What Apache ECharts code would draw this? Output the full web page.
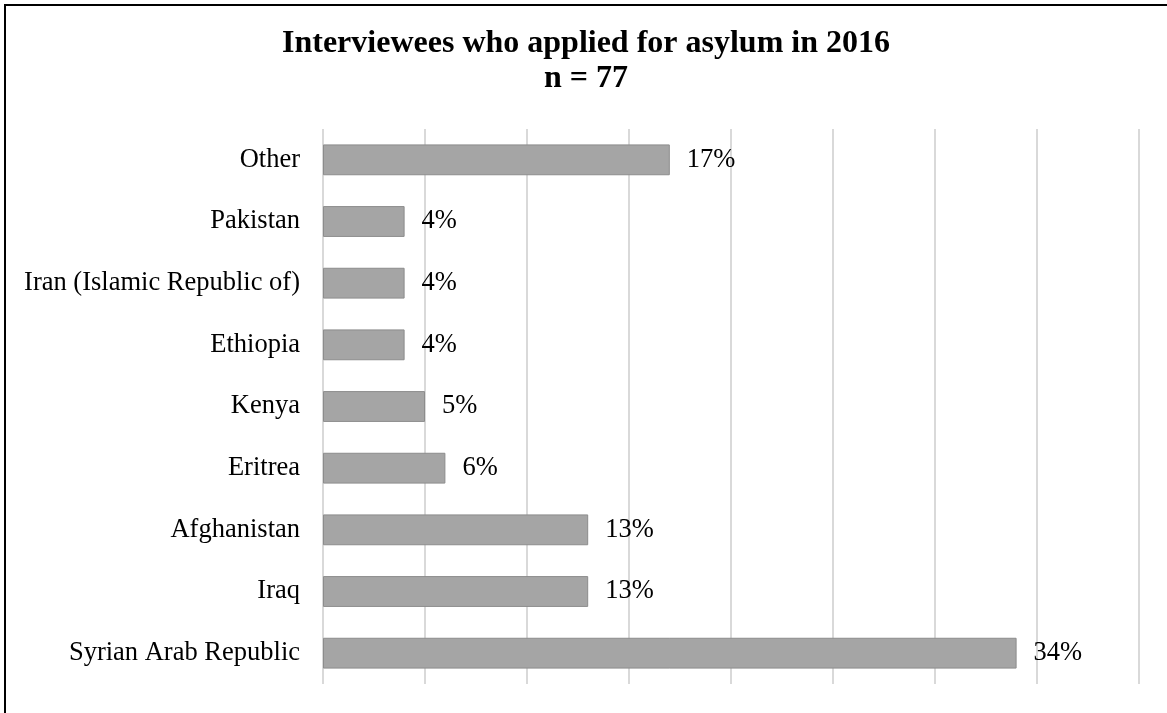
<!DOCTYPE html>
<html>
<head>
<meta charset="utf-8">
<script src="https://cdn.jsdelivr.net/npm/echarts@6/dist/echarts.min.js"></script>
<style>
  html, body { margin: 0; padding: 0; background: #fff; }
  #chart { width: 1167px; height: 713px; }
</style>
</head>
<body>
<div id="chart"></div>
<script>
// Countries of origin, listed bottom to top as drawn on the category axis
const countries = [
  'Syrian Arab Republic',
  'Iraq',
  'Afghanistan',
  'Eritrea',
  'Kenya',
  'Ethiopia',
  'Iran (Islamic Republic of)',
  'Pakistan',
  'Other'
];

// Share of interviewees (percent)
const shares = [34, 13, 13, 6, 5, 4, 4, 4, 17];

const titleLines = ['Interviewees who applied for asylum in 2016', 'n = 77'];

const serif = '"Liberation Serif", "DejaVu Serif", serif';

const chart = echarts.init(document.getElementById('chart'), null, { renderer: 'canvas' });

chart.setOption({
  backgroundColor: '#ffffff',
  animation: false,
  graphic: [
    {
      // frame around the chart area (left and top edges visible)
      type: 'rect',
      shape: { x: 5, y: 5, width: 2000, height: 2000 },
      style: { fill: 'none', stroke: '#000000', lineWidth: 2 },
      silent: true
    },
    {
      // two-line centred heading
      type: 'text',
      x: 586,
      y: 26,
      silent: true,
      style: {
        text: titleLines.join('\n'),
        align: 'center',
        verticalAlign: 'top',
        font: 'bold 32px ' + serif,
        lineHeight: 35,
        fill: '#000000'
      }
    }
  ],
  grid: {
    left: 323,
    right: 28,
    top: 129,
    bottom: 29,
    containLabel: false
  },
  xAxis: {
    type: 'value',
    min: 0,
    max: 40,
    interval: 5,
    axisLine: { show: false },
    axisTick: { show: false },
    axisLabel: { show: false },
    splitLine: { show: true, lineStyle: { color: '#d9d9d9', width: 2 } }
  },
  yAxis: {
    type: 'category',
    data: countries,
    axisLine: { show: false },
    axisTick: { show: false },
    axisLabel: {
      margin: 23,
      fontFamily: serif,
      fontSize: 26.5,
      color: '#000000'
    }
  },
  series: [
    {
      type: 'bar',
      data: shares,
      barCategoryGap: '50%',
      itemStyle: {
        color: '#a5a5a5',
        borderColor: '#8c8c8c',
        borderWidth: 1
      },
      label: {
        show: true,
        position: 'right',
        distance: 17,
        formatter: p => p.value + '%',
        fontFamily: serif,
        fontSize: 26.5,
        color: '#000000'
      }
    }
  ]
});
</script>
</body>
</html>
